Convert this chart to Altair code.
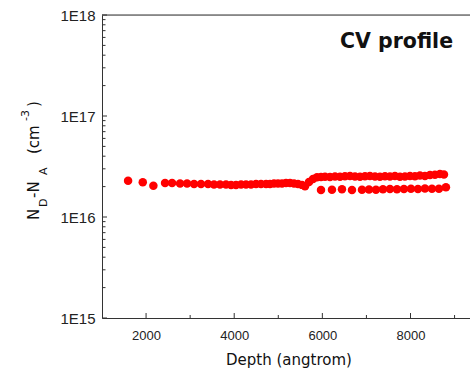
import altair as alt
import pandas as pd

# ---- data (depth in angstrom, concentration in 1E16 cm^-3) ----
depth_first = [1592, 1925, 2166]
conc_first = [2.29, 2.21, 2.04]

depth_mid = [2431, 2590, 2771, 2930, 3089, 3247, 3406, 3542, 3678, 3814,
             3928, 4041, 4155, 4268, 4381, 4495, 4608, 4722, 4812, 4903,
             4994, 5084, 5175, 5266, 5357, 5447, 5538, 5606, 5697, 5788]
conc_mid = [2.17, 2.17, 2.15, 2.15, 2.12, 2.12, 2.12, 2.10, 2.10, 2.10,
            2.07, 2.07, 2.10, 2.10, 2.10, 2.12, 2.12, 2.12, 2.12, 2.15,
            2.15, 2.15, 2.17, 2.17, 2.15, 2.12, 2.08, 2.02, 2.22, 2.38]

depth_upper = [5878, 5969, 6060, 6173, 6287, 6400, 6513, 6627, 6740, 6854,
               6967, 7080, 7194, 7307, 7421, 7534, 7647, 7761, 7874, 7988,
               8101, 8214, 8328, 8442, 8555, 8668, 8759]
conc_upper = [2.47, 2.49, 2.50, 2.49, 2.52, 2.50, 2.53, 2.55, 2.52, 2.50,
              2.53, 2.55, 2.52, 2.50, 2.53, 2.52, 2.55, 2.50, 2.52, 2.55,
              2.53, 2.57, 2.55, 2.60, 2.62, 2.67, 2.64]

depth_lower = [5969, 6218, 6445, 6672, 6899, 7058, 7216, 7375, 7534, 7693,
               7851, 8010, 8169, 8328, 8487, 8645, 8804]
conc_lower = [1.85, 1.86, 1.88, 1.85, 1.86, 1.87, 1.86, 1.88, 1.89, 1.88,
              1.89, 1.90, 1.89, 1.91, 1.90, 1.90, 1.97]

x_major = [2000, 4000, 6000, 8000]
x_minor = [3000, 5000, 7000, 9000]
y_major = [1e15, 1e16, 1e17, 1e18]
y_minor = [2e15, 3e15, 4e15, 5e15, 6e15, 7e15, 8e15, 9e15,
           2e16, 3e16, 4e16, 5e16, 6e16, 7e16, 8e16, 9e16,
           2e17, 3e17, 4e17, 5e17, 6e17, 7e17, 8e17, 9e17]

df = pd.DataFrame({
    "depth": depth_first + depth_mid + depth_upper + depth_lower,
    "conc": [c * 1e16 for c in conc_first + conc_mid + conc_upper + conc_lower],
})

W, H = 368, 303
xs = alt.Scale(domain=[1000, 9350], nice=False, zero=False)
ys = alt.Scale(type="log", domain=[1e15, 1e18], nice=False)

AX = "#333333"
LBL = "#222222"

points = alt.Chart(df).mark_circle(size=72, color="#ff0000", opacity=1).encode(
    x=alt.X("depth:Q", scale=xs, axis=alt.Axis(
        orient="bottom", values=x_major, format="d", ticks=False, tickSize=0,
        labelPadding=11, labelFontSize=13, labelFont="Liberation Sans",
        labelColor=LBL, domainColor=AX, domainWidth=1, grid=False, title=None,
        labelFlush=False, labelOverlap=False)),
    y=alt.Y("conc:Q", scale=ys, axis=alt.Axis(
        orient="left", values=y_major,
        labelExpr="'1E' + round(log(datum.value) / LN10)",
        ticks=False, tickSize=0, labelPadding=7, labelFontSize=15,
        labelFont="Liberation Sans", labelColor=LBL, domainColor=AX,
        domainWidth=1, grid=False, title=None, labelOverlap=False)),
)


def xticks(vals, size):
    return alt.Chart(pd.DataFrame({"depth": vals})).mark_rule(
        color=AX, strokeWidth=1).encode(
        x=alt.X("depth:Q", scale=xs),
        y=alt.value(H - size), y2=alt.value(H))


def yticks(vals, size):
    return alt.Chart(pd.DataFrame({"conc": vals})).mark_rule(
        color=AX, strokeWidth=1).encode(
        y=alt.Y("conc:Q", scale=ys),
        x=alt.value(0), x2=alt.value(size))


top = alt.Chart(alt.Data(values=[{}])).mark_rule(color=AX, strokeWidth=1).encode(
    x=alt.value(0), x2=alt.value(W), y=alt.value(0))


def txt(t, x, y, size, angle=0, align="left", weight="normal"):
    props = dict(text=t, align=align, baseline="alphabetic", fontSize=size,
                 font="DejaVu Sans", fontWeight=weight, color="#111111")
    if angle:
        props["angle"] = angle
    return alt.Chart(alt.Data(values=[{}])).mark_text(**props).encode(
        x=alt.value(x), y=alt.value(y))


texts = [
    txt("CV profile", 238, 33, 20.5, weight="bold"),
    txt("Depth (angtrom)", 187, 350, 15, align="center"),
    txt("N", -63.5, 205, 15, angle=270),
    txt("D", -55, 192, 11, angle=270),
    txt("-N", -63.5, 183, 15, angle=270),
    txt("A", -55, 160, 11, angle=270),
    txt("(cm", -63.5, 139, 15, angle=270),
    txt("-3", -73, 106, 11, angle=270),
    txt(")", -63.5, 92, 15, angle=270),
]

chart = alt.layer(
    points,
    xticks(x_major, 5), xticks(x_minor, 3),
    yticks(y_major, 5), yticks(y_minor, 3.5),
    top, *texts,
).properties(
    width=W, height=H,
    autosize=alt.AutoSizeParams(type="none"),
    padding={"left": 102, "top": 15, "right": 0, "bottom": 56},
).configure_view(stroke=None).configure(background="white")

chart.save("out.html", embed_options={"renderer": "svg", "actions": False})
